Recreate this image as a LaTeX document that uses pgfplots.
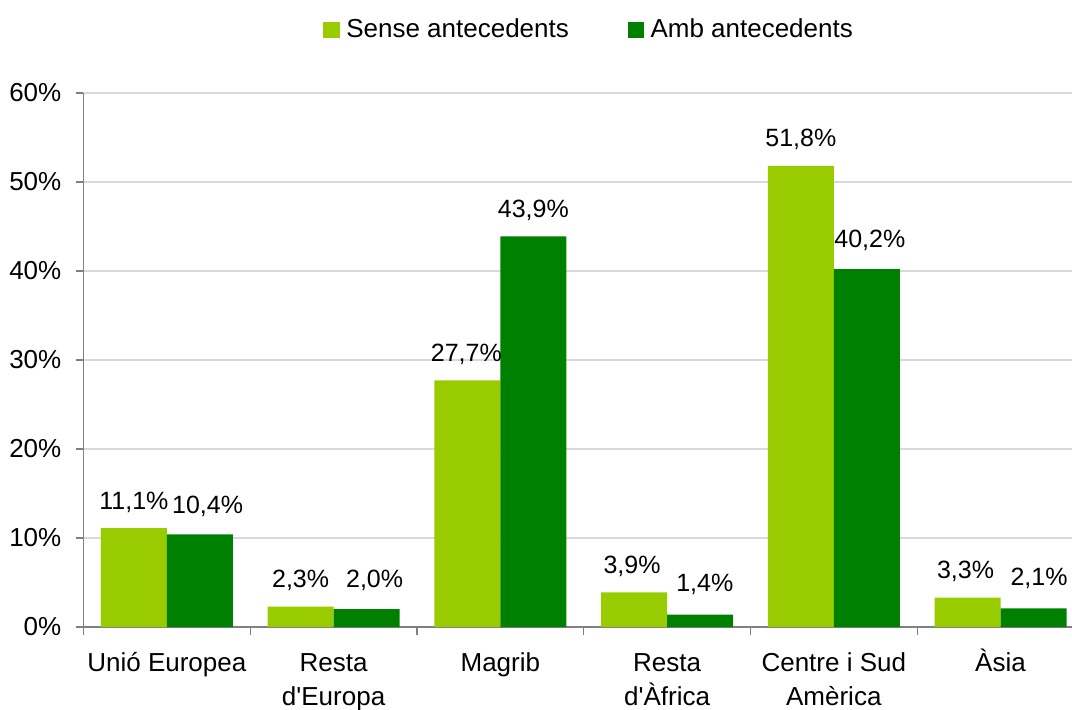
\documentclass[border=0pt]{standalone}
\usepackage{pgfplots}
\pgfplotsset{compat=1.18}
\usepackage{pgfplotstable}
\usepackage{fontspec}
\setmainfont{Liberation Sans}[Ligatures=TeXOff]
\definecolor{lgreen}{HTML}{99CC00}
\definecolor{dgreen}{HTML}{008000}
\definecolor{axgray}{HTML}{808080}
\definecolor{gridgray}{HTML}{D9D9D9}

\pgfplotstableread{
x y dx dy
0 11.1 0 9.5
1 2.3 0 9.5
2 27.7 -0.5 9.5
3 3.9 -1 9.2
4 51.8 0 9.5
5 3.3 -1 9.5
}\sense
\pgfplotstableread{
x y dx dy
0 10.4 3.85 10.5
1 2.0 4 11
2 43.9 0 9.2
3 1.4 2.35 11.5
4 40.2 1.5 11
5 2.1 2.75 11.25
}\amb

\begin{document}
\begin{tikzpicture}
\path[use as bounding box] (0,0) rectangle (536pt,354.5pt);
\begin{axis}[
  at={(41.75pt,41pt)}, anchor=south west,
  scale only axis, width=500.2pt, height=267pt,
  xmin=-0.5, xmax=5.5, ymin=0, ymax=60,
  axis x line*=bottom, axis y line*=left,
  axis line style={draw=axgray, line width=0.6pt},
  ymajorgrids, grid style={draw=gridgray, line width=0.6pt},
  /pgf/number format/assume math mode=true,
  tick align=outside,
  major tick length=0pt,
  minor tick length=3.8pt,
  tick style={draw=axgray, line width=0.6pt},
  ytick={0,10,...,60},
  minor ytick={0,10,...,60},
  yticklabel={\pgfmathprintnumber{\tick}\%},
  yticklabel style={anchor=east, inner sep=0pt, xshift=-10.9pt, font=\fontsize{13}{15}\selectfont},
  xtick={0,1,2,3,4,5},
  minor xtick={-0.5,0.5,1.5,2.5,3.5,4.5,5.5},
  xticklabels={{\strut Unió Europea},{\strut Resta\\d'Europa},{\strut Magrib},{\strut Resta\\d'Àfrica},{\strut Centre i Sud\\Amèrica},{\strut Àsia}},
  xticklabel style={anchor=north, align=center, inner sep=0pt, yshift=-10.1pt, font=\fontsize{13}{17}\selectfont},
  ybar, bar width=33pt,
  nodes near coords={\pgfmathprintnumber[fixed,fixed zerofill,precision=1,use comma]{\pgfplotspointmeta}\%},
  visualization depends on={\thisrow{dx} \as \dx},
  visualization depends on={\thisrow{dy} \as \dy},
  every node near coord/.append style={anchor=base, inner sep=0pt, xshift=\dx pt, yshift=\dy pt, font=\fontsize{12.5}{14}\selectfont, text=black},
  legend columns=2,
  legend style={at={(0.2397,1.118)}, anchor=west, draw=none, fill=none, inner sep=0pt, outer sep=0pt,
    font=\fontsize{13}{15}\selectfont, nodes={inner sep=0pt},
    /tikz/every odd column/.append style={column sep=3.2pt},
    /tikz/every even column/.append style={column sep=29.3pt}},
  legend image code/.code={\fill[#1] (0pt,-4.15pt) rectangle (8.3pt,4.15pt);},
  clip=false,
]
\addplot[fill=lgreen, draw=none, bar shift=-16.5pt] table[x=x, y=y, meta=y] {\sense};
\addplot[fill=dgreen, draw=none, bar shift=16.5pt] table[x=x, y=y, meta=y] {\amb};
\legend{Sense antecedents, Amb antecedents}
\end{axis}
\end{tikzpicture}
\end{document}
